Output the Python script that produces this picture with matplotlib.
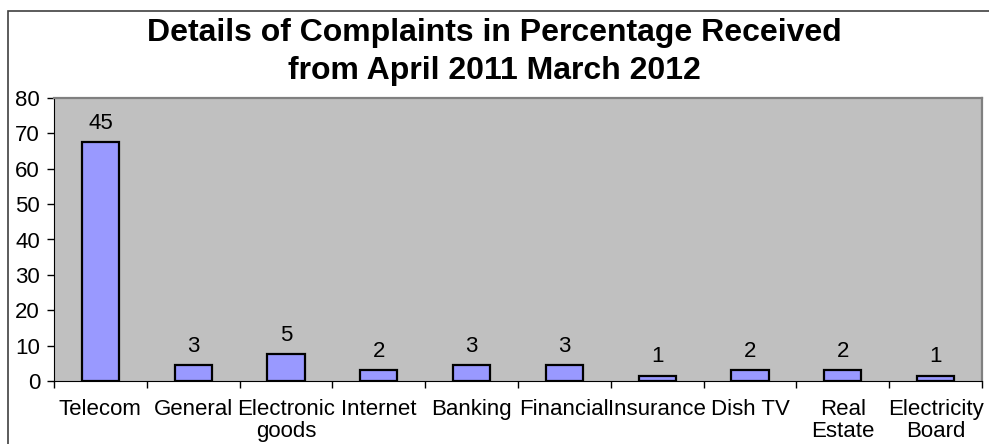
import matplotlib.pyplot as plt
from matplotlib.patches import Rectangle
import numpy as np

plt.rcParams['font.family'] = ['Liberation Sans', 'DejaVu Sans']

categories = ['Telecom', 'General', 'Electronic\ngoods', 'Internet', 'Banking',
              'Financial', 'Insurance', 'Dish TV', 'Real\nEstate', 'Electricity\nBoard']
bar_heights = [67.5, 4.5, 7.5, 3, 4.5, 4.5, 1.5, 3, 3, 1.5]
bar_labels = ['45', '3', '5', '2', '3', '3', '1', '2', '2', '1']

fig = plt.figure(figsize=(9.89, 4.44), dpi=100)
ax = fig.add_axes([54 / 989, 1 - 381 / 444, 928 / 989, 283 / 444])
ax.set_facecolor('#C0C0C0')

x = np.arange(len(categories))
bars = ax.bar(x, bar_heights, width=0.4, color='#9999FF', edgecolor='black', linewidth=1.6)
for b, lab in zip(bars, bar_labels):
    ax.annotate(lab, (b.get_x() + b.get_width() / 2, b.get_height()),
                xytext=(0, 6), textcoords='offset points', ha='center', va='bottom',
                fontsize=16)

ax.set_ylim(0, 80)
ax.set_yticks(range(0, 81, 10))
ax.set_xlim(-0.5, len(categories) - 0.5)
ax.set_xticks(np.arange(-0.5, len(categories), 1))
ax.set_xticklabels([])
ax.set_xticks(x, minor=True)
ax.set_xticklabels(categories, minor=True, fontsize=16, linespacing=1.05)
ax.tick_params(axis='x', which='minor', length=0, pad=13)
ax.tick_params(axis='x', which='major', length=5, width=1)
ax.tick_params(axis='y', length=5, width=1, labelsize=16, pad=5)

for s in ['top', 'right']:
    ax.spines[s].set_color('#808080')
    ax.spines[s].set_linewidth(1.6)
ax.spines['left'].set_color('black')
ax.spines['bottom'].set_color('black')

fig.text(0.5, 1 - 52 / 444, 'Details of Complaints in Percentage Received\nfrom April 2011 March 2012',
         ha='center', va='center', fontsize=23, fontweight='bold', linespacing=1.35)

fig.patches.append(Rectangle((7.5 / 989, -0.1), 1.1, 1.1 - 11 / 444, transform=fig.transFigure,
                             fill=False, edgecolor='#404040', linewidth=1.2))

fig.savefig('out.png', dpi=100)
